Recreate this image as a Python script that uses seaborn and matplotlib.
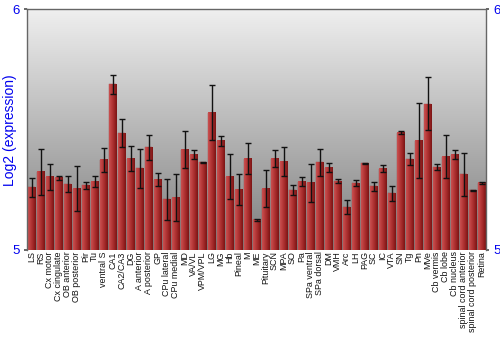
import numpy as np
import pandas as pd
import matplotlib
matplotlib.use("Agg")
import matplotlib.pyplot as plt
from matplotlib import font_manager
import seaborn as sns

regions = ["LS", "RS", "Cx motor", "Cx cingulate", "OB anterior", "OB posterior", "Pir", "Tu",
           "ventral S", "CA1", "CA2/CA3", "DG", "A anterior", "A posterior", "GP", "CPu lateral",
           "CPu medial", "MD", "VA/VL", "VPM/VPL", "LG", "MG", "Hb", "Pineal", "M", "ME",
           "Pituitary", "SCN", "MPA", "SO", "Pa", "SPa ventral", "SPa dorsal", "DM", "VMH", "Arc",
           "LH", "PAG", "SC", "IC", "VTA", "SN", "Tg", "Pn", "MVe", "Cb vermis", "Cb lobe",
           "Cb nucleus", "spinal cord anterior", "spinal cord posterior", "Retina"]
expression = [5.260, 5.325, 5.304, 5.300, 5.274, 5.254, 5.269, 5.283, 5.375, 5.688,
              5.486, 5.379, 5.339, 5.426, 5.292, 5.210, 5.217, 5.417, 5.396, 5.364,
              5.571, 5.454, 5.304, 5.251, 5.379, 5.125,
              5.255, 5.379, 5.367, 5.249, 5.283, 5.280, 5.364, 5.342, 5.286, 5.178,
              5.278, 5.360, 5.265, 5.338, 5.235, 5.488, 5.378, 5.454, 5.607, 5.345,
              5.388, 5.396, 5.314, 5.249, 5.279]
error = [0.040, 0.096, 0.053, 0.008, 0.033, 0.094, 0.015, 0.023, 0.049, 0.040,
         0.058, 0.052, 0.081, 0.051, 0.026, 0.085, 0.098, 0.078, 0.019, 0.003,
         0.115, 0.021, 0.094, 0.063, 0.064, 0.005,
         0.078, 0.035, 0.060, 0.019, 0.019, 0.079, 0.056, 0.018, 0.007, 0.029,
         0.011, 0.002, 0.019, 0.014, 0.031, 0.006, 0.024, 0.155, 0.110, 0.011,
         0.090, 0.018, 0.091, 0.002, 0.005]
y_ticks = [5, 6]

df = pd.DataFrame({"region": regions, "expression": expression})

sns.set_theme(style="white")
plt.rcParams['font.family'] = ['Liberation Sans', 'DejaVu Sans']

available = {f.name for f in font_manager.fontManager.ttflist}
if "Liberation Sans Narrow" in available:
    xlab_family = ["Liberation Sans Narrow", "DejaVu Sans"]
    xlab_size = 7.4
else:
    xlab_family = ["Liberation Sans", "DejaVu Sans"]
    xlab_size = 6.4

fig = plt.figure(figsize=(5, 3.5), dpi=100)
ax = fig.add_axes([0.054, 0.286, 0.918, 0.687])

sns.barplot(data=df, x="region", y="expression", ax=ax, color="#b03030",
            width=0.88, errorbar=None, saturation=1, zorder=2)

ymin, ymax = 5, 6
xmin, xmax = -0.5, len(regions) - 0.5

# background gradient
bg = np.linspace(0, 1, 256).reshape(-1, 1)
bg_cmap = matplotlib.colors.LinearSegmentedColormap.from_list("bg", ["#7e7e7e", "#efefef"])
ax.imshow(bg, cmap=bg_cmap, aspect="auto", origin="lower",
          extent=[xmin, xmax, ymin, ymax], zorder=0)

# bar gradients
bar_cmap = matplotlib.colors.LinearSegmentedColormap.from_list(
    "bar", ["#c85050", "#b83a3a", "#9e2626", "#7a1414"])
grad = np.linspace(0, 1, 64).reshape(1, -1)
xs = []
for p in ax.patches:
    x0 = p.get_x()
    w = p.get_width()
    top = p.get_y() + p.get_height()
    xs.append(x0 + w / 2)
    ax.imshow(grad, cmap=bar_cmap, aspect="auto",
              extent=[x0, x0 + w, ymin, top], zorder=2.5)
    p.set_edgecolor("#a04040")
    p.set_linewidth(0.3)

ax.errorbar(xs, expression, yerr=error, fmt="none", ecolor="#111111",
            elinewidth=1.0, capsize=2.5, capthick=1.0, zorder=4)

ax.set_ylim(ymin, ymax)
ax.set_xlim(xmin, xmax)

ax.set_xlabel("")
ax.set_ylabel("")
fig.text(10 / 500, 1 - 130 / 350, "Log2 (expression)", color="#0000ee", fontsize=10,
         rotation=90, ha="center", va="center")
ax.set_yticks(y_ticks)
ax.set_yticklabels([str(t) for t in y_ticks])
ax.tick_params(axis="y", colors="#0000ee", labelsize=9.5, length=2, pad=3,
               left=True, right=True, labelleft=True, labelright=True)
ax.tick_params(axis="y", color="#555555")
ax.tick_params(axis="x", length=0, pad=1)
for lab in ax.get_xticklabels():
    lab.set_rotation(90)
    lab.set_family(xlab_family)
    lab.set_fontsize(xlab_size)
    lab.set_color("#111111")

for side in ["left", "right", "top"]:
    ax.spines[side].set_color("#666666")
    ax.spines[side].set_linewidth(1.0)
ax.spines["bottom"].set_visible(False)

fig.savefig("out.png", dpi=100)
